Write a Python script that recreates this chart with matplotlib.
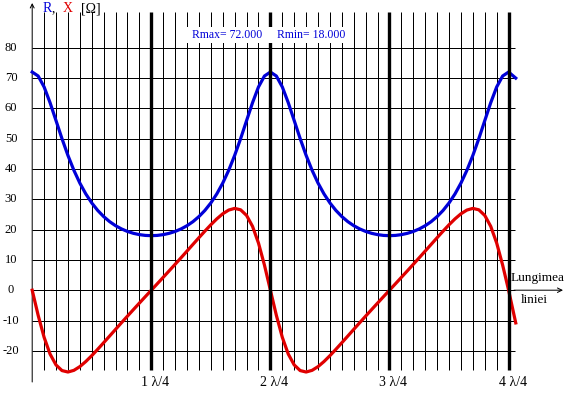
import matplotlib
matplotlib.use('Agg')
import matplotlib.pyplot as plt
import numpy as np

# ---- data (x in units of lambda/4) ----
R_vals = [72.00, 70.69, 67.08, 61.88, 55.97, 50.02, 44.49, 39.58, 35.36, 31.78, 28.80,
          26.33, 24.30, 22.63, 21.29, 20.22, 19.39, 18.77, 18.34, 18.08, 18.00,
          18.08, 18.34, 18.77, 19.39, 20.22, 21.29, 22.63, 24.30, 26.33, 28.80,
          31.78, 35.36, 39.58, 44.49, 50.02, 55.97, 61.88, 67.08, 70.69, 72.00,
          70.69, 67.08, 61.88, 55.97, 50.02, 44.49, 39.58, 35.36, 31.78, 28.80,
          26.33, 24.30, 22.63, 21.29, 20.22, 19.39, 18.77, 18.34, 18.08, 18.00,
          18.08, 18.34, 18.77, 19.39, 20.22, 21.29, 22.63, 24.30, 26.33, 28.80,
          31.78, 35.36, 39.58, 44.49, 50.02, 55.97, 61.88, 67.08, 70.69, 72.00,
          70.00]
X_vals = [0.00, -8.29, -15.55, -21.07, -24.67, -26.53, -27.00, -26.45, -25.22, -23.54, -21.60,
          -19.50, -17.33, -15.13, -12.92, -10.72, -8.55, -6.39, -4.25, -2.12, 0.00,
          2.12, 4.25, 6.39, 8.55, 10.72, 12.92, 15.13, 17.33, 19.50, 21.60,
          23.54, 25.22, 26.45, 27.00, 26.53, 24.67, 21.07, 15.55, 8.29, 0.00,
          -8.29, -15.55, -21.07, -24.67, -26.53, -27.00, -26.45, -25.22, -23.54, -21.60,
          -19.50, -17.33, -15.13, -12.92, -10.72, -8.55, -6.39, -4.25, -2.12, 0.00,
          2.12, 4.25, 6.39, 8.55, 10.72, 12.92, 15.13, 17.33, 19.50, 21.60,
          23.54, 25.22, 26.45, 27.00, 26.53, 24.67, 21.07, 15.55, 8.29, 0.00,
          -10.80]
u_pos = np.append(np.arange(81) * 0.05, 4.06)
y_ticks = [80, 70, 60, 50, 40, 30, 20, 10, 0, -10, -20]
x_labels = ['1 λ/4', '2 λ/4', '3 λ/4', '4 λ/4']
x_label_pos = [1, 2, 3, 4]
Rmax, Rmin = 72.0, 18.0

BLUE = '#0000D8'
RED = '#E00000'
FONT = 'Liberation Serif'

W, H = 570, 394
X0, SX = 32.2, 119.1
Y0, SY = 290.2, 3.03
def dx(px): return (px - X0) / SX
def dy(py): return (Y0 - py) / SY

fig = plt.figure(figsize=(5.7, 3.94), dpi=100)
ax = fig.add_axes([0, 0, 1, 1])
ax.set_xlim(dx(0), dx(W))
ax.set_ylim(dy(H), dy(0))
ax.axis('off')

# grid
for k in range(1, 41):
    u = k / 10
    thick = (k % 10 == 0)
    ax.vlines(u, dy(370), dy(12), color='black',
              lw=2.4 if thick else 0.72, zorder=4 if thick else 1)
for yv in y_ticks:
    ax.hlines(yv, 0, dx(515), color='black', lw=0.72, zorder=1)

# axes with arrows
ax.annotate('', xy=(dx(563), 0), xytext=(dx(514), 0),
            arrowprops=dict(arrowstyle='->', lw=0.72, color='black',
                            mutation_scale=8, shrinkA=0, shrinkB=0))
ax.annotate('', xy=(0, dy(3)), xytext=(0, dy(382)),
            arrowprops=dict(arrowstyle='->', lw=0.72, color='black',
                            mutation_scale=7, shrinkA=0, shrinkB=0))

# curves
ax.plot(u_pos, R_vals, color=BLUE, lw=2.3, zorder=3, solid_joinstyle='round')
ax.plot(u_pos, X_vals, color=RED, lw=2.3, zorder=3, solid_joinstyle='round')

# tick labels
for yv in y_ticks:
    ax.text(dx(11), yv, str(yv), ha='center', va='center', fontsize=9,
            family=FONT, color='black')
for xp, lab in zip(x_label_pos, x_labels):
    ax.text(xp - dx(42.2), dy(383), lab, ha='left', va='center', fontsize=10,
            family=FONT, color='black')

# title pieces
ax.text(dx(43), dy(8.5), 'R', color=BLUE, fontsize=10, family=FONT, va='center', ha='left')
ax.text(dx(52), dy(8.5), ',', color='black', fontsize=10, family=FONT, va='center', ha='left')
ax.text(dx(63), dy(8.5), 'X', color=RED, fontsize=10, family=FONT, va='center', ha='left')
ax.text(dx(81), dy(8.5), '[Ω]', color='black', fontsize=10, family=FONT, va='center', ha='left')

# Rmax / Rmin box
ax.add_patch(plt.Rectangle((dx(186), dy(43)), dx(352) - dx(186), dy(27) - dy(43),
                           facecolor='white', edgecolor='none', zorder=5))
ax.text(dx(192), dy(35), f'Rmax= {Rmax:.3f}', color=BLUE, fontsize=8.5, family=FONT,
        va='center', ha='left', zorder=6)
ax.text(dx(277), dy(35), f'Rmin= {Rmin:.3f}', color=BLUE, fontsize=8.5, family=FONT,
        va='center', ha='left', zorder=6)

# x axis label
ax.text(dx(538), dy(281), 'Lungimea', ha='center', va='baseline', fontsize=9.5,
        family=FONT, color='black')
ax.text(dx(534), dy(303), 'liniei', ha='center', va='baseline', fontsize=9.5,
        family=FONT, color='black')

fig.savefig('out.png', dpi=100)
